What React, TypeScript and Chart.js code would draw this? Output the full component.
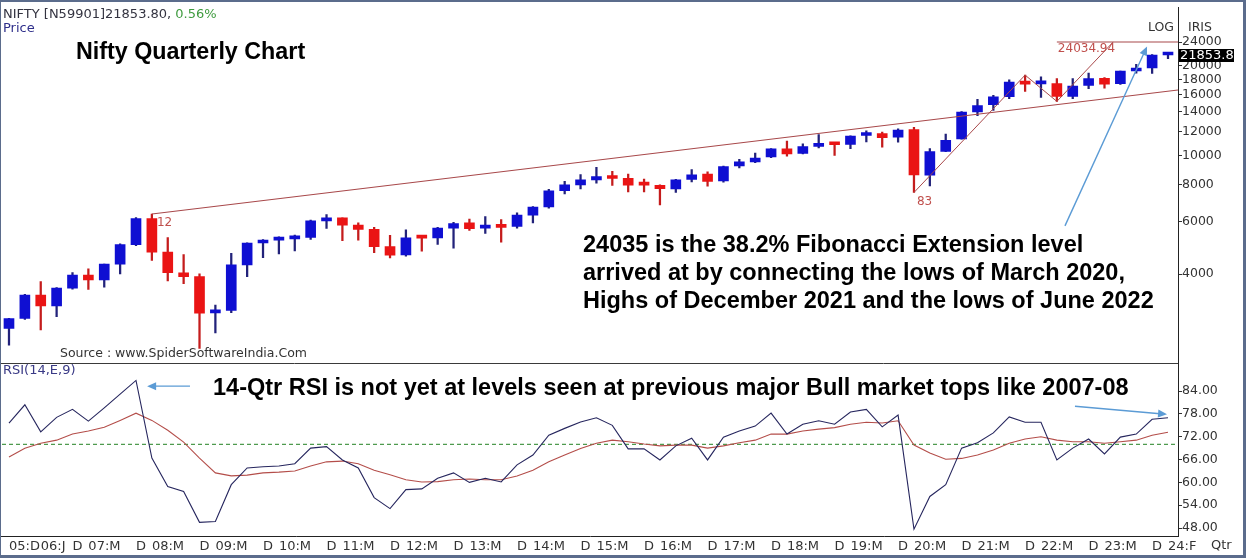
import React, { useEffect, useRef } from 'react';
import { Chart, registerables } from 'chart.js';

Chart.register(...registerables);

// ---------------- DATA ----------------
const quarters = [
  '2005-Q4',
  '2006-Q1', '2006-Q2', '2006-Q3', '2006-Q4',
  '2007-Q1', '2007-Q2', '2007-Q3', '2007-Q4',
  '2008-Q1', '2008-Q2', '2008-Q3', '2008-Q4',
  '2009-Q1', '2009-Q2', '2009-Q3', '2009-Q4',
  '2010-Q1', '2010-Q2', '2010-Q3', '2010-Q4',
  '2011-Q1', '2011-Q2', '2011-Q3', '2011-Q4',
  '2012-Q1', '2012-Q2', '2012-Q3', '2012-Q4',
  '2013-Q1', '2013-Q2', '2013-Q3', '2013-Q4',
  '2014-Q1', '2014-Q2', '2014-Q3', '2014-Q4',
  '2015-Q1', '2015-Q2', '2015-Q3', '2015-Q4',
  '2016-Q1', '2016-Q2', '2016-Q3', '2016-Q4',
  '2017-Q1', '2017-Q2', '2017-Q3', '2017-Q4',
  '2018-Q1', '2018-Q2', '2018-Q3', '2018-Q4',
  '2019-Q1', '2019-Q2', '2019-Q3', '2019-Q4',
  '2020-Q1', '2020-Q2', '2020-Q3', '2020-Q4',
  '2021-Q1', '2021-Q2', '2021-Q3', '2021-Q4',
  '2022-Q1', '2022-Q2', '2022-Q3', '2022-Q4',
  '2023-Q1', '2023-Q2', '2023-Q3', '2023-Q4',
  '2024-Q1',
];

const opens = [
  2630, 2837, 3402, 3128, 3588, 3966, 3822, 4318, 5021, 6144,
  4735, 4040, 3921, 2963, 3021, 4291, 5084, 5201, 5249, 5313,
  6030, 6177, 5834, 5647, 4944, 4640, 5296, 5283, 5704, 5937,
  5705, 5834, 5781, 6301, 6721, 7611, 7964, 8272, 8483, 8376,
  7992, 7938, 7719, 8313, 8666, 8210, 9221, 9520, 9893, 10532,
  10152, 10732, 11034, 10881, 11665, 11839, 11515, 12202, 8584, 10323,
  11364, 13997, 14798, 15755, 17531, 17388, 17436, 15774, 17187, 18131,
  17427, 19209, 19656, 21727,
];
const highs = [
  2843, 3418, 3774, 3602, 4046, 4167, 4318, 5055, 6185, 6357,
  5298, 4650, 4010, 3147, 4693, 5087, 5221, 5330, 5400, 6073,
  6338, 6181, 5944, 5741, 5399, 5630, 5379, 5735, 5965, 6112,
  6230, 6094, 6415, 6730, 7700, 8180, 8627, 9119, 8845, 8655,
  8336, 7973, 8308, 8969, 8806, 9218, 9709, 10179, 10552, 11172,
  10929, 11760, 11035, 11630, 12103, 11981, 12293, 12430, 10554, 11794,
  14024, 15432, 15916, 17948, 18604, 18350, 18115, 18096, 18888, 18265,
  19201, 20222, 21801, 22126,
];
const lows = [
  2307, 2815, 2596, 2878, 3560, 3554, 3617, 4002, 4984, 4448,
  3790, 3715, 2253, 2539, 2965, 3918, 4538, 4676, 4786, 5225,
  5690, 5178, 5196, 4720, 4531, 4588, 4770, 5032, 4888, 5604,
  5477, 5119, 5700, 5933, 6650, 7422, 7724, 8065, 7940, 7540,
  7551, 6826, 7516, 8150, 7894, 8133, 9075, 9448, 9831, 9952,
  10112, 10604, 10005, 10534, 11108, 10670, 11090, 7511, 7904, 10299,
  11347, 13597, 14151, 15514, 16410, 15671, 15183, 15511, 16748, 16828,
  17312, 18890, 18837, 21137,
];
const closes = [
  2837, 3403, 3128, 3588, 3966, 3822, 4318, 5021, 6139, 4734,
  4040, 3921, 2959, 3021, 4291, 5084, 5201, 5249, 5313, 6030,
  6135, 5834, 5647, 4943, 4624, 5296, 5279, 5703, 5905, 5682,
  5842, 5735, 6304, 6704, 7611, 7965, 8283, 8491, 8369, 7949,
  7946, 7738, 8288, 8611, 8186, 9174, 9521, 9789, 10531, 10114,
  10714, 10930, 10863, 11624, 11789, 11474, 12168, 8598, 10302, 11248,
  13982, 14691, 15722, 17618, 17354, 17465, 15780, 17094, 18105, 17360,
  19189, 19638, 21731, 21854,
];

const rsiValues = [
  75.6, 80.4, 73.3, 77.1, 79.2, 76.1, 79.6, 83.2, 86.8, 66.4,
  58.9, 57.6, 49.5, 49.7, 59.4, 63.8, 64.1, 64.3, 64.9, 69.0,
  69.4, 65.9, 63.8, 56.0, 53.1, 58.1, 58.3, 61.1, 62.5, 60.0,
  61.1, 60.1, 64.6, 67.2, 72.4, 74.2, 75.9, 77.0, 75.0, 68.8,
  68.8, 65.9, 69.6, 71.6, 65.9, 71.9, 73.5, 74.8, 78.2, 72.7,
  75.3, 76.2, 75.3, 78.5, 79.2, 74.6, 77.7, 47.7, 56.3, 59.4,
  69.0, 70.4, 73.0, 77.2, 75.8, 75.8, 65.9, 69.0, 71.4, 67.5,
  71.9, 72.7, 76.6, 77.0,
];
const rsiSignal = [
  66.7, 69.0, 70.3, 71.1, 72.7, 73.5, 74.5, 76.3, 78.2, 76.3,
  73.7, 70.6, 66.4, 62.5, 61.7, 61.9, 62.5, 62.7, 63.0, 64.3,
  65.4, 65.6, 64.9, 63.2, 62.0, 60.7, 60.1, 60.2, 60.7, 60.9,
  60.7, 60.7, 61.7, 63.2, 65.4, 67.2, 68.9, 70.3, 71.1, 70.7,
  70.1, 69.6, 69.8, 69.8, 69.0, 69.6, 70.4, 71.1, 72.7, 72.7,
  73.5, 74.0, 74.4, 75.3, 75.8, 75.6, 76.2, 69.8, 67.7, 66.1,
  66.3, 67.2, 68.5, 70.3, 71.4, 72.0, 71.1, 70.7, 70.7, 70.3,
  70.7, 71.1, 72.4, 73.2,
];

const priceTicks = [4000, 6000, 8000, 10000, 12000, 14000, 16000, 18000, 20000, 24000];
const rsiTicks = [48, 54, 60, 66, 72, 78, 84];
const xTickIndex = [0, 2, 4, 5, 8, 9, 12, 13, 16, 17, 20, 21, 24, 25, 28, 29, 32, 33, 36, 37,
  40, 41, 44, 45, 48, 49, 52, 53, 56, 57, 60, 61, 64, 65, 68, 69, 72, 73];
const xTickLabels = ['05:D', '06:J', 'D', '07:M', 'D', '08:M', 'D', '09:M', 'D', '10:M', 'D', '11:M',
  'D', '12:M', 'D', '13:M', 'D', '14:M', 'D', '15:M', 'D', '16:M', 'D', '17:M', 'D', '18:M',
  'D', '19:M', 'D', '20:M', 'D', '21:M', 'D', '22:M', 'D', '23:M', 'D', '24:F'];

// drawn studies (index, price)
const trendX = [9, 73.63];
const trendY = [6357, 16576];
const fibX = [57, 64, 66, 69.55];
const fibY = [7511, 18604, 15183, 24034.94];
const fibLevelX = [66, 73.63];
const fibLevelY = [24034.94, 24034.94];
const rsiLevel = 70;
const lastPrice = 21853.8;

// axis ranges
const X_MIN = -0.44;
const X_MAX = 73.63;
const PRICE_MIN = 2004;
const PRICE_MAX = 31364;
const RSI_MIN = 45.9;
const RSI_MAX = 91.26;

// ---------------- STYLE ----------------
const BODY_BLUE = '#0f0fd2';
const BODY_RED = '#ea1414';
const WICK_BLUE = '#22227a';
const WICK_RED = '#c41c1c';
const STUDY_RED = '#a8484a';
const LABEL_RED = '#c0504d';
const ARROW_BLUE = '#5b9bd5';
const TXT = '#333333';
const UI_FONT = '"DejaVu Sans", Verdana, sans-serif';
const BOLD_FONT = '"Liberation Sans", Arial, sans-serif';

function drawArrow(ctx: CanvasRenderingContext2D, x1: number, y1: number, x2: number, y2: number) {
  const a = Math.atan2(y2 - y1, x2 - x1);
  const L = 9, W = 4;
  ctx.strokeStyle = ARROW_BLUE;
  ctx.fillStyle = ARROW_BLUE;
  ctx.lineWidth = 1.4;
  ctx.beginPath();
  ctx.moveTo(x1, y1);
  ctx.lineTo(x2 - (L - 2) * Math.cos(a), y2 - (L - 2) * Math.sin(a));
  ctx.stroke();
  ctx.beginPath();
  ctx.moveTo(x2, y2);
  ctx.lineTo(x2 - L * Math.cos(a) + W * Math.sin(a), y2 - L * Math.sin(a) - W * Math.cos(a));
  ctx.lineTo(x2 - L * Math.cos(a) - W * Math.sin(a), y2 - L * Math.sin(a) + W * Math.cos(a));
  ctx.closePath();
  ctx.fill();
}

const overlayPlugin = {
  id: 'overlay',
  afterDraw(chart: any) {
    const ctx: CanvasRenderingContext2D = chart.ctx;
    const area = chart.chartArea;
    const xs = chart.scales.x;
    const ps = chart.scales.price;
    const rs = chart.scales.rsi;
    ctx.save();

    // panel separator and axis extension
    ctx.strokeStyle = '#3a3a3a';
    ctx.lineWidth = 1;
    const sepY = Math.round(ps.bottom) + 0.5;
    ctx.beginPath();
    ctx.moveTo(0, sepY);
    ctx.lineTo(area.right, sepY);
    ctx.stroke();
    const axY = Math.round(area.bottom) + 0.5;
    ctx.strokeStyle = '#222';
    ctx.beginPath();
    ctx.moveTo(0, axY);
    ctx.lineTo(area.left + 1, axY);
    ctx.stroke();

    const text = (s: string, x: number, y: number, font: string, color: string, align: CanvasTextAlign = 'left') => {
      ctx.font = font;
      ctx.fillStyle = color;
      ctx.textAlign = align;
      ctx.textBaseline = 'middle';
      ctx.fillText(s, x, y);
      return ctx.measureText(s).width;
    };

    // header
    const hw = text('NIFTY [N59901]21853.80,', 3, 15, `13px ${UI_FONT}`, '#333340');
    text(' 0.56%', 3 + hw, 15, `13px ${UI_FONT}`, '#3f9b3f');
    text('Price', 3, 29, `13px ${UI_FONT}`, '#2e2e8a');
    text('Nifty Quarterly Chart', 76, 53, `bold 23.3px ${BOLD_FONT}`, '#000');

    // study labels
    text('12', xs.getPixelForValue(9) + 5, ps.getPixelForValue(6357) + 9, `12px ${UI_FONT}`, LABEL_RED);
    text('83', xs.getPixelForValue(57) + 3, ps.getPixelForValue(7511) + 9, `12px ${UI_FONT}`, LABEL_RED);
    text('24034.94', xs.getPixelForValue(66) + 1, ps.getPixelForValue(24034.94) + 7, `12px ${UI_FONT}`, LABEL_RED);

    // annotations
    const bf = `bold 23.5px ${BOLD_FONT}`;
    text('24035 is the 38.2% Fibonacci Extension level', 583, 246, bf, '#000');
    text('arrived at by connecting the lows of March 2020,', 583, 274, bf, '#000');
    text('Highs of December 2021 and the lows of June 2022', 583, 302, bf, '#000');
    text('14-Qtr RSI is not yet at levels seen at previous major Bull market tops like 2007-08', 213, 389, bf, '#000');

    text('Source : www.SpiderSoftwareIndia.Com', 60, 354, `12.5px ${UI_FONT}`, TXT);
    text('RSI(14,E,9)', 3, 371, `13px ${UI_FONT}`, '#3a3a86');

    // arrows
    drawArrow(ctx, xs.getPixelForValue(66.51), ps.getPixelForValue(5803), xs.getPixelForValue(71.68), ps.getPixelForValue(23224));
    drawArrow(ctx, xs.getPixelForValue(11.4), rs.getPixelForValue(85.3), xs.getPixelForValue(8.7), rs.getPixelForValue(85.3));
    drawArrow(ctx, xs.getPixelForValue(67.14), rs.getPixelForValue(80.0), xs.getPixelForValue(72.94), rs.getPixelForValue(77.9));

    // right side labels
    text('LOG', 1148, 28, `12.5px ${UI_FONT}`, TXT);
    text('IRIS', 1188, 28, `12.5px ${UI_FONT}`, TXT);
    const ly = Math.round(ps.getPixelForValue(lastPrice));
    ctx.fillStyle = '#000';
    ctx.fillRect(area.right + 1, ly - 5, 55, 13);
    text('21853.8', area.right + 2, ly + 1.5, `13px ${UI_FONT}`, '#fff');
    text('Qtr', 1211, 546, `13px ${UI_FONT}`, TXT);

    // outer frame
    ctx.fillStyle = '#5b6c8c';
    const W = chart.width, H = chart.height;
    ctx.fillRect(0, 0, W, 2);
    ctx.fillRect(0, H - 3, W, 3);
    ctx.fillRect(0, 0, 1, H);
    ctx.fillRect(W - 3, 0, 3, H);

    ctx.restore();
  },
};

export default function App() {
  const ref = useRef<HTMLCanvasElement | null>(null);

  useEffect(() => {
    const canvas = ref.current;
    if (!canvas) return;
    const up = closes.map((c, i) => c >= opens[i]);
    const chart = new Chart(canvas, {
      type: 'bar',
      data: {
        labels: quarters,
        datasets: [
          {
            type: 'line',
            label: 'Trend',
            data: trendX.map((x, i) => ({ x, y: trendY[i] })),
            yAxisID: 'price', xAxisID: 'x',
            borderColor: STUDY_RED, borderWidth: 1.1, pointRadius: 0, tension: 0,
            order: 0,
          },
          {
            type: 'line',
            label: 'Fib',
            data: fibX.map((x, i) => ({ x, y: fibY[i] })),
            yAxisID: 'price', xAxisID: 'x',
            borderColor: STUDY_RED, borderWidth: 1, pointRadius: 0, tension: 0,
            order: 0,
          },
          {
            type: 'line',
            label: 'FibLevel',
            data: fibLevelX.map((x, i) => ({ x, y: fibLevelY[i] })),
            yAxisID: 'price', xAxisID: 'x',
            borderColor: STUDY_RED, borderWidth: 1.1, pointRadius: 0, tension: 0,
            order: 0,
          },
          {
            type: 'bar',
            label: 'Body',
            data: opens.map((o, i) => ({ x: i, y: [o, closes[i]] })),
            yAxisID: 'price', xAxisID: 'x',
            backgroundColor: up.map(u => (u ? BODY_BLUE : BODY_RED)),
            borderWidth: 0,
            barThickness: 10,
            minBarLength: 3,
            grouped: false,
            order: 1,
          },
          {
            type: 'bar',
            label: 'Wick',
            data: lows.map((l, i) => ({ x: i, y: [l, highs[i]] })),
            yAxisID: 'price', xAxisID: 'x',
            backgroundColor: up.map(u => (u ? WICK_BLUE : WICK_RED)),
            borderWidth: 0,
            barThickness: 1.6,
            grouped: false,
            order: 2,
          },
          {
            type: 'line',
            label: 'Level70',
            data: [{ x: X_MIN, y: rsiLevel }, { x: X_MAX, y: rsiLevel }],
            yAxisID: 'rsi', xAxisID: 'x',
            borderColor: '#4e9a4e', borderWidth: 1.1, borderDash: [4, 3], pointRadius: 0,
            order: 3,
          },
          {
            type: 'line',
            label: 'RSI',
            data: rsiValues.map((v, i) => ({ x: i, y: v })),
            yAxisID: 'rsi', xAxisID: 'x',
            borderColor: '#26265e', borderWidth: 1.1, pointRadius: 0, tension: 0,
            order: 0,
          },
          {
            type: 'line',
            label: 'Signal',
            data: rsiSignal.map((v, i) => ({ x: i, y: v })),
            yAxisID: 'rsi', xAxisID: 'x',
            borderColor: '#b44e4a', borderWidth: 1.1, pointRadius: 0, tension: 0,
            order: 1,
          },
        ] as any,
      },
      options: {
        responsive: false,
        animation: false,
        devicePixelRatio: 1,
        events: [],
        layout: { padding: { left: 2, top: 6, right: 0, bottom: 0 } },
        plugins: { legend: { display: false }, tooltip: { enabled: false } },
        scales: {
          x: {
            type: 'linear',
            axis: 'x',
            position: 'bottom',
            offset: false,
            min: X_MIN,
            max: X_MAX,
            afterBuildTicks: (s: any) => { s.ticks = xTickIndex.map(v => ({ value: v })); },
            afterFit: (s: any) => { s.height = 22; },
            grid: { display: true, drawOnChartArea: false, drawTicks: false, offset: false },
            border: { display: true, color: '#222', width: 1 },
            ticks: {
              autoSkip: false, maxRotation: 0, minRotation: 0, align: 'start', padding: 3,
              color: TXT, font: { family: UI_FONT, size: 13 },
              callback: (_v: any, i: number) => xTickLabels[i],
            },
          },
          price: {
            type: 'logarithmic',
            axis: 'y',
            position: 'right',
            stack: 'panels',
            stackWeight: 357,
            weight: 0,
            min: PRICE_MIN,
            max: PRICE_MAX,
            afterBuildTicks: (s: any) => { s.ticks = priceTicks.map(v => ({ value: v })); },
            afterFit: (s: any) => { s.width = 68; },
            grid: { drawOnChartArea: false, drawTicks: true, tickLength: 4, color: '#333' },
            border: { display: true, color: '#222', width: 1 },
            ticks: {
              autoSkip: false,
              padding: 0, color: TXT, font: { family: UI_FONT, size: 12.5 },
              callback: (v: any) => String(v),
            },
          },
          rsi: {
            type: 'linear',
            axis: 'y',
            position: 'right',
            stack: 'panels',
            stackWeight: 173,
            weight: 1,
            beginAtZero: false,
            min: RSI_MIN,
            max: RSI_MAX,
            afterBuildTicks: (s: any) => { s.ticks = rsiTicks.map(v => ({ value: v })); },
            afterFit: (s: any) => { s.width = 68; },
            grid: { drawOnChartArea: false, drawTicks: true, tickLength: 4, color: '#333' },
            border: { display: true, color: '#222', width: 1 },
            ticks: {
              autoSkip: false,
              padding: 0, color: TXT, font: { family: UI_FONT, size: 12.5 },
              callback: (v: any) => Number(v).toFixed(2),
            },
          },
        } as any,
      },
      plugins: [overlayPlugin],
    } as any);
    return () => chart.destroy();
  }, []);

  return (
    <div style={{ position: 'fixed', left: 0, top: 0, width: 1246, height: 558, background: '#fff' }}>
      <canvas ref={ref} width={1246} height={558} style={{ display: 'block', width: 1246, height: 558 }} />
    </div>
  );
}
